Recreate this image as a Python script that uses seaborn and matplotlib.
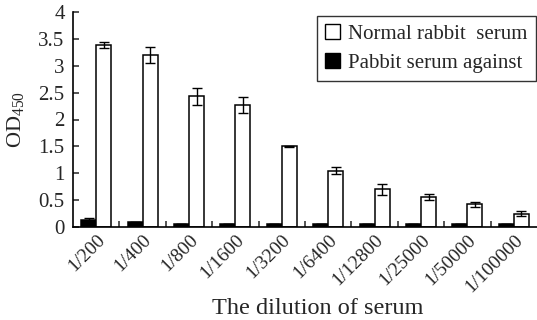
import numpy as np
import pandas as pd
import seaborn as sns
import matplotlib
matplotlib.use('Agg')
import matplotlib.pyplot as plt
from matplotlib.patches import Patch

# values
dilutions = ['1/200', '1/400', '1/800', '1/1600', '1/3200', '1/6400',
             '1/12800', '1/25000', '1/50000', '1/100000']
normal = [3.39, 3.20, 2.43, 2.27, 1.50, 1.05, 0.70, 0.56, 0.42, 0.25]
normal_err = [0.06, 0.14, 0.16, 0.14, 0.01, 0.06, 0.10, 0.05, 0.05, 0.04]
against = [0.13, 0.09, 0.05, 0.06, 0.05, 0.05, 0.05, 0.06, 0.05, 0.05]
against_err = [0.03, 0.0, 0.0, 0.0, 0.0, 0.0, 0.0, 0.0, 0.0, 0.0]

lab_normal = 'Normal rabbit  serum'
lab_against = 'Pabbit serum against'

df = pd.DataFrame({
    'dilution': dilutions * 2,
    'OD': against + normal,
    'serum': [lab_against] * len(dilutions) + [lab_normal] * len(dilutions),
})

sns.set_style('ticks')
plt.rcParams['font.family'] = ['Liberation Serif', 'DejaVu Serif']
plt.rcParams['mathtext.fontset'] = 'custom'
plt.rcParams['mathtext.rm'] = 'Liberation Serif'

fig = plt.figure(figsize=(5.37, 3.2), dpi=100)
ax = fig.add_axes([73/537, 1 - 227/320, 1 - 73/537, (227 - 12)/320])

sns.barplot(data=df, x='dilution', y='OD', hue='serum',
            hue_order=[lab_against, lab_normal],
            palette={lab_against: 'black', lab_normal: 'white'},
            edgecolor='black', linewidth=1.1, width=0.65,
            errorbar=None, legend=False, ax=ax)

# error bars on top of the seaborn bars
for cont, errs in zip(ax.containers, [against_err, normal_err]):
    xs = [p.get_x() + p.get_width() / 2 for p in cont.patches]
    ys = [p.get_height() for p in cont.patches]
    ax.errorbar(xs, ys, yerr=errs, fmt='none', ecolor='black',
                elinewidth=1.0, capsize=3.5, capthick=1.0)

ax.set_ylim(0, 4)
ax.set_xlim(-0.5, 9.5)
ax.set_yticks(np.arange(0, 4.01, 0.5))
ax.set_yticklabels(['0', '0.5', '1', '1.5', '2', '2.5', '3', '3.5', '4'])
ax.tick_params(axis='y', direction='in', length=4, width=1.1,
               labelsize=15, pad=6)
ax.set_xticks(np.arange(0.5, 9.5, 1), minor=True)
ax.tick_params(axis='x', which='major', length=0, labelsize=14, pad=3)
ax.tick_params(axis='x', which='minor', direction='in', length=4, width=1.1)
for t in ax.get_xticklabels():
    t.set_rotation(45)
    t.set_ha('right')
    t.set_rotation_mode('anchor')

for s in ['top', 'right']:
    ax.spines[s].set_visible(False)
for s in ['left', 'bottom']:
    ax.spines[s].set_linewidth(1.2)
    ax.spines[s].set_color('black')

ax.set_ylabel(r'$\mathregular{OD_{450}}$', fontsize=16)
ax.yaxis.set_label_coords(-0.101, 0.5)
ax.set_xlabel('The dilution of serum', fontsize=17.5)
ax.xaxis.set_label_coords(0.528, -0.33)

handles = [Patch(facecolor='white', edgecolor='black', linewidth=1.0),
           Patch(facecolor='black', edgecolor='black', linewidth=1.0)]
leg = fig.legend(handles, [lab_normal, lab_against], loc='upper right',
                 bbox_to_anchor=(536/537, 1 - 16/320), fontsize=15,
                 frameon=True, fancybox=False, edgecolor='black',
                 handlelength=0.7, handleheight=0.7, handletextpad=0.4,
                 borderaxespad=0, borderpad=0.4, labelspacing=0.45)
leg.get_frame().set_linewidth(1.0)

fig.savefig('out.png', dpi=100)
